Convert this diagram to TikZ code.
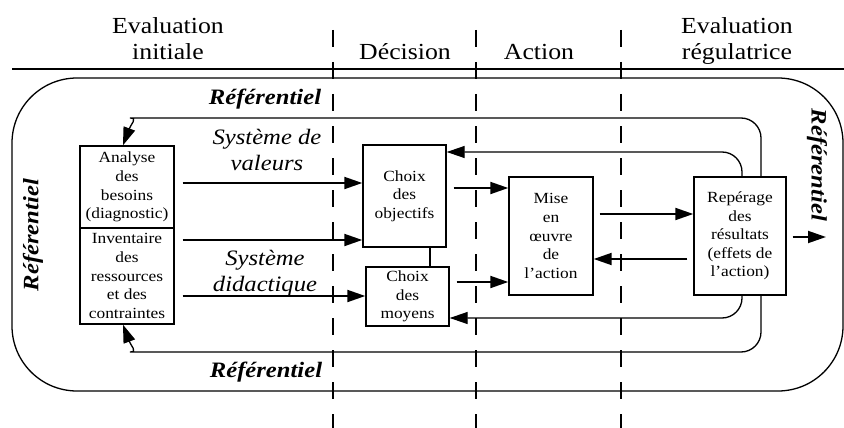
\documentclass[tikz,border=0pt]{standalone}
\usepackage{fontspec}
\setmainfont[FakeStretch=1.12]{Liberation Serif}
\usetikzlibrary{arrows.meta,calc}

\tikzset{
  box/.style={draw, line width=1.4pt, align=center, inner sep=0pt,
    font=\fontsize{15.5}{18.6}\selectfont},
  tip/.style={-{Triangle[length=18pt,width=12pt]}},
  flow/.style={line width=1.9pt, tip},
  loopline/.style={line width=1.3pt},
  looparrow/.style={line width=1.3pt, tip},
  phase/.style={align=center, anchor=base, font=\fontsize{23}{27}\selectfont},
  refer/.style={font=\fontsize{22}{25}\selectfont\bfseries\itshape, anchor=base},
  system/.style={align=center, anchor=base, font=\fontsize{22}{26}\selectfont\itshape},
  divider/.style={line width=2.2pt, dash pattern=on 17pt off 15pt},
}

\begin{document}
\begin{tikzpicture}[x=1pt, y=-1pt]
\useasboundingbox (0,0) rectangle (844,428);

% phase dividers and header rule
\draw[divider] (333,30) -- (333,428);
\draw[divider] (476,30) -- (476,428);
\draw[divider] (621,30) -- (621,428);
\draw[line width=1.5pt] (12,69) -- (844,69);

% phase headings (base = last line)
\node[phase] (h1) at (168,60) {Evaluation\\initiale};
\node[phase] (h2) at (405,60) {Décision};
\node[phase] (h3) at (539,60) {Action};
\node[phase] (h4) at (737,60) {Evaluation\\régulatrice};

% outer frame
\draw[loopline, rounded corners=65pt] (12,78) rectangle (843,391);

% boxes
\node[box, minimum width=94, minimum height=82] (analyse) at (127,187)
  {Analyse\\des\\besoins\\(diagnostic)};
\node[box, minimum width=94, minimum height=96] (inventaire) at (127,276)
  {Inventaire\\des\\ressources\\et des\\contraintes};
\node[box, minimum width=83, minimum height=102] (objectifs) at (404.5,196)
  {Choix\\des\\objectifs};
\node[box, minimum width=83, minimum height=59] (moyens) at (407.5,296.5)
  {Choix\\des\\moyens};
\node[box, minimum width=84, minimum height=118] (mise) at (551,236)
  {Mise\\en\\œuvre\\de\\l'action};
\node[box, minimum width=92, minimum height=118] (reperage) at (740,236)
  {Repérage\\des\\résultats\\(effets de\\l'action)};

% labels
\node[refer] (reftop) at (265,104) {Référentiel};
\node[refer] (refbot) at (266,377) {Référentiel};
\node[refer, anchor=center, rotate=90] (refleft) at (33,235) {Référentiel};
\node[refer, anchor=center, rotate=-90] (refright) at (817,165) {Référentiel};
\node[system] (valeurs) at (267,170) {Système de\\valeurs};
\node[system] (didact) at (265,291) {Système\\didactique};

% levels of the horizontal connectors
\coordinate (y1) at (0,183);
\coordinate (y2) at (0,240);
\coordinate (y3) at (0,296);
\coordinate (y4) at (0,188);
\coordinate (y5) at (0,282);
\coordinate (y6) at (0,214);
\coordinate (y7) at (0,259);
\coordinate (y8) at (0,237);
\coordinate (xo) at (761,0);
\coordinate (xi) at (742,0);
\coordinate (xa) at (123,0);
\coordinate (xl) at (430,0);
\coordinate (out) at (826,237);

% forward flow
\draw[flow, shorten <=8pt] (analyse.east |- y1) -- (objectifs.west |- y1);
\draw[flow, shorten <=8pt] (inventaire.east |- y2) -- (objectifs.west |- y2);
\draw[flow, shorten <=8pt] (inventaire.east |- y3) -- (moyens.west |- y3);
\draw[flow, shorten <=7pt] (objectifs.east |- y4) -- (mise.west |- y4);
\draw[flow, shorten <=7pt] (moyens.east |- y5) -- (mise.west |- y5);
\draw[flow, shorten <=6pt] (mise.east |- y6) -- (reperage.west |- y6);
\draw[flow, shorten <=6pt] (reperage.west |- y7) -- (mise.east |- y7);
\draw[flow, shorten <=6pt] (reperage.east |- y8) -- (out);
\draw[line width=1.4pt] (objectifs.south -| xl) -- (moyens.north -| xl);

% feedback loops
\draw[looparrow, rounded corners=20pt] (reperage.north -| xo) -- (761,118) -- (150,118)
  [sharp corners] .. controls (138,118) and (131,124) .. (analyse.north -| xa);
\draw[looparrow, rounded corners=20pt] (reperage.south -| xo) -- (761,352) -- (150,352)
  [sharp corners] .. controls (138,352) and (131,346) .. (inventaire.south -| xa);
\draw[looparrow, rounded corners=20pt] (reperage.north -| xi) -- (742,152) -- (objectifs.east |- 0,152);
\draw[looparrow, rounded corners=20pt] (reperage.south -| xi) -- (742,318) -- (moyens.east |- 0,318);
\end{tikzpicture}
\end{document}
